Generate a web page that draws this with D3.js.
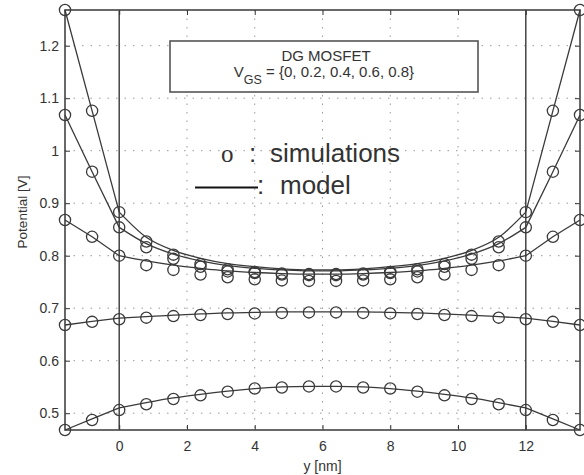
<!DOCTYPE html>
<html>
<head>
<meta charset="utf-8">
<script src="https://cdn.jsdelivr.net/npm/d3@7"></script>
<style>
  html, body { margin: 0; padding: 0; background: #ffffff; }
  svg { display: block; }
  text { font-family: "Liberation Sans", Arial, sans-serif; fill: #333; }
</style>
</head>
<body>
<svg id="chart" width="584" height="475"></svg>
<script>
// ---------- DATA ----------
const positions = [-1.6, -0.8, 0, 0.8, 1.6, 2.4, 3.2, 4.0, 4.8, 5.6, 6.4, 7.2, 8.0, 8.8, 9.6, 10.4, 11.2, 12, 12.8, 13.6];
const vgsValues = [0, 0.2, 0.4, 0.6, 0.8];

const simVgs0  = [0.468, 0.487, 0.506, 0.517, 0.527, 0.534, 0.541, 0.547, 0.549, 0.551, 0.551, 0.549, 0.547, 0.541, 0.534, 0.527, 0.517, 0.506, 0.487, 0.468];
const simVgs02 = [0.668, 0.674, 0.679, 0.682, 0.685, 0.687, 0.689, 0.690, 0.691, 0.692, 0.692, 0.691, 0.690, 0.689, 0.687, 0.685, 0.682, 0.679, 0.674, 0.668];
const simVgs04 = [0.868, 0.836, 0.800, 0.782, 0.773, 0.764, 0.759, 0.755, 0.753, 0.752, 0.752, 0.753, 0.755, 0.759, 0.764, 0.773, 0.782, 0.800, 0.836, 0.868];
const simVgs06 = [1.068, 0.960, 0.854, 0.816, 0.794, 0.779, 0.770, 0.767, 0.764, 0.763, 0.763, 0.764, 0.767, 0.770, 0.779, 0.794, 0.816, 0.854, 0.960, 1.068];
const simVgs08 = [1.268, 1.076, 0.883, 0.827, 0.802, 0.784, 0.774, 0.769, 0.766, 0.765, 0.765, 0.766, 0.769, 0.774, 0.784, 0.802, 0.827, 0.883, 1.076, 1.268];

const modelVgs0  = [0.468, 0.489, 0.510, 0.520, 0.529, 0.536, 0.542, 0.547, 0.550, 0.551, 0.551, 0.550, 0.547, 0.542, 0.536, 0.529, 0.520, 0.510, 0.489, 0.468];
const modelVgs02 = [0.668, 0.675, 0.681, 0.684, 0.687, 0.689, 0.691, 0.692, 0.693, 0.693, 0.693, 0.693, 0.692, 0.691, 0.689, 0.687, 0.684, 0.681, 0.675, 0.668];
const modelVgs04 = [0.868, 0.836, 0.800, 0.790, 0.782, 0.776, 0.771, 0.768, 0.766, 0.765, 0.765, 0.766, 0.768, 0.771, 0.776, 0.782, 0.790, 0.800, 0.836, 0.868];
const modelVgs06 = [1.068, 0.960, 0.854, 0.823, 0.803, 0.790, 0.781, 0.776, 0.773, 0.771, 0.771, 0.773, 0.776, 0.781, 0.790, 0.803, 0.823, 0.854, 0.960, 1.068];
const modelVgs08 = [1.268, 1.076, 0.883, 0.835, 0.810, 0.795, 0.785, 0.779, 0.775, 0.773, 0.773, 0.775, 0.779, 0.785, 0.795, 0.810, 0.835, 0.883, 1.076, 1.268];

const xTicks = [0, 2, 4, 6, 8, 10, 12];
const yTicks = [0.5, 0.6, 0.7, 0.8, 0.9, 1.0, 1.1, 1.2];
const oxideEdges = [0, 12];
const xLabel = "y [nm]";
const yLabel = "Potential [V]";

// ---------- LAYOUT ----------
const W = 584, H = 475;
const m = { left: 65, right: 4, top: 10, bottom: 45 };
const pw = W - m.left - m.right, ph = H - m.top - m.bottom;
const ink = "#333";

const svg = d3.select("#chart");
const g = svg.append("g").attr("transform", `translate(${m.left},${m.top})`);

const x = d3.scaleLinear().domain([-1.6, 13.6]).range([0, pw]);
const y = d3.scaleLinear().domain([0.468, 1.268]).range([ph, 0]);

// grid
g.append("g").selectAll("line").data(xTicks.filter(t => !oxideEdges.includes(t))).join("line")
  .attr("x1", d => x(d)).attr("x2", d => x(d)).attr("y1", 0).attr("y2", ph)
  .attr("stroke", "#999").attr("stroke-width", 1).attr("stroke-dasharray", "1.5,7");
g.append("g").selectAll("line").data(yTicks).join("line")
  .attr("x1", 0).attr("x2", pw).attr("y1", d => y(d)).attr("y2", d => y(d))
  .attr("stroke", "#999").attr("stroke-width", 1).attr("stroke-dasharray", "1.5,7");

// oxide boundaries
g.append("g").selectAll("line").data(oxideEdges).join("line")
  .attr("x1", d => x(d)).attr("x2", d => x(d)).attr("y1", 0).attr("y2", ph)
  .attr("stroke", "#444").attr("stroke-width", 1.5);

// axes
function styleAxis(sel) {
  sel.attr("font-size", null).attr("font-family", null);
  sel.select(".domain").remove();
  sel.selectAll(".tick line").attr("stroke", ink).attr("stroke-width", 1);
  sel.selectAll(".tick text").style("font-size", "14px").attr("fill", ink);
}
g.append("g").attr("transform", `translate(0,${ph})`)
  .call(d3.axisBottom(x).tickValues(xTicks).tickSize(-5).tickPadding(11).tickFormat(d3.format("d")))
  .call(styleAxis);
g.append("g")
  .call(d3.axisTop(x).tickValues(xTicks).tickSize(-5).tickFormat(""))
  .call(styleAxis);
g.append("g")
  .call(d3.axisLeft(y).tickValues(yTicks).tickSize(-5).tickPadding(6).tickFormat(d => d3.format("")(+d.toFixed(1))))
  .call(styleAxis);
g.append("g").attr("transform", `translate(${pw},0)`)
  .call(d3.axisRight(y).tickValues(yTicks).tickSize(-5).tickFormat(""))
  .call(styleAxis);

// frame
g.append("rect").attr("x", 0).attr("y", 0).attr("width", pw).attr("height", ph)
  .attr("fill", "none").attr("stroke", "#444").attr("stroke-width", 1.6);

// model lines
const modelSeries = [modelVgs0, modelVgs02, modelVgs04, modelVgs06, modelVgs08];
const simSeries = [simVgs0, simVgs02, simVgs04, simVgs06, simVgs08];

const lineLinear = d3.line().x(d => x(d[0])).y(d => y(d[1]));
const lineSmooth = d3.line().x(d => x(d[0])).y(d => y(d[1])).curve(d3.curveMonotoneX);
const i0 = positions.indexOf(0), i12 = positions.indexOf(12);

const modelG = g.append("g").attr("fill", "none").attr("stroke", "#3a3a3a").attr("stroke-width", 1.3);
modelSeries.forEach(vals => {
  const pts = positions.map((p, i) => [p, vals[i]]);
  modelG.append("path").attr("d", lineLinear(pts.slice(0, i0 + 1)));
  modelG.append("path").attr("d", lineSmooth(pts.slice(i0, i12 + 1)));
  modelG.append("path").attr("d", lineLinear(pts.slice(i12)));
});

// simulation circles
const simG = g.append("g").attr("fill", "none").attr("stroke", "#3a3a3a").attr("stroke-width", 1.3);
simSeries.forEach(vals => {
  simG.append("g").selectAll("circle").data(positions.map((p, i) => [p, vals[i]])).join("circle")
    .attr("cx", d => x(d[0])).attr("cy", d => y(d[1])).attr("r", 5.6);
});

// axis labels
svg.append("text").attr("x", m.left + x(6)).attr("y", 471).attr("text-anchor", "middle")
  .style("font-size", "14px").text(xLabel);
svg.append("text").attr("transform", "translate(27,212) rotate(-90)").attr("text-anchor", "middle")
  .style("font-size", "13.5px").text(yLabel);

// title box
const bx = 170, by = 41, bw = 308, bh = 51;
svg.append("rect").attr("x", bx).attr("y", by).attr("width", bw).attr("height", bh)
  .attr("fill", "#fff").attr("stroke", "#555").attr("stroke-width", 1.6);
svg.append("text").attr("x", bx + bw / 2 + 2).attr("y", 61).attr("text-anchor", "middle")
  .style("font-size", "15px").text("DG MOSFET");
const t2 = svg.append("text").attr("x", bx + bw / 2).attr("y", 77).attr("text-anchor", "middle").style("font-size", "15px");
t2.append("tspan").text("V");
t2.append("tspan").attr("dy", 7).style("font-size", "12.5px").text("GS");
t2.append("tspan").attr("dy", -7).text(" = {" + vgsValues.join(", ") + "}");

// legend text
svg.append("text").attr("x", 221).attr("y", 162).style("font-size", "25px")
  .style("font-family", "Liberation Serif, serif").attr("fill", "#111").text("o");
svg.append("text").attr("x", 249).attr("y", 162).style("font-size", "26px").attr("fill", "#111").text(":");
svg.append("text").attr("x", 270).attr("y", 162).style("font-size", "26px").attr("fill", "#111").text("simulations");
svg.append("line").attr("x1", 195).attr("x2", 258).attr("y1", 187.5).attr("y2", 187.5)
  .attr("stroke", "#111").attr("stroke-width", 2);
svg.append("text").attr("x", 257).attr("y", 194).style("font-size", "26px").attr("fill", "#111").text(":");
svg.append("text").attr("x", 280).attr("y", 194).style("font-size", "26px").attr("fill", "#111").text("model");
</script>
</body>
</html>
